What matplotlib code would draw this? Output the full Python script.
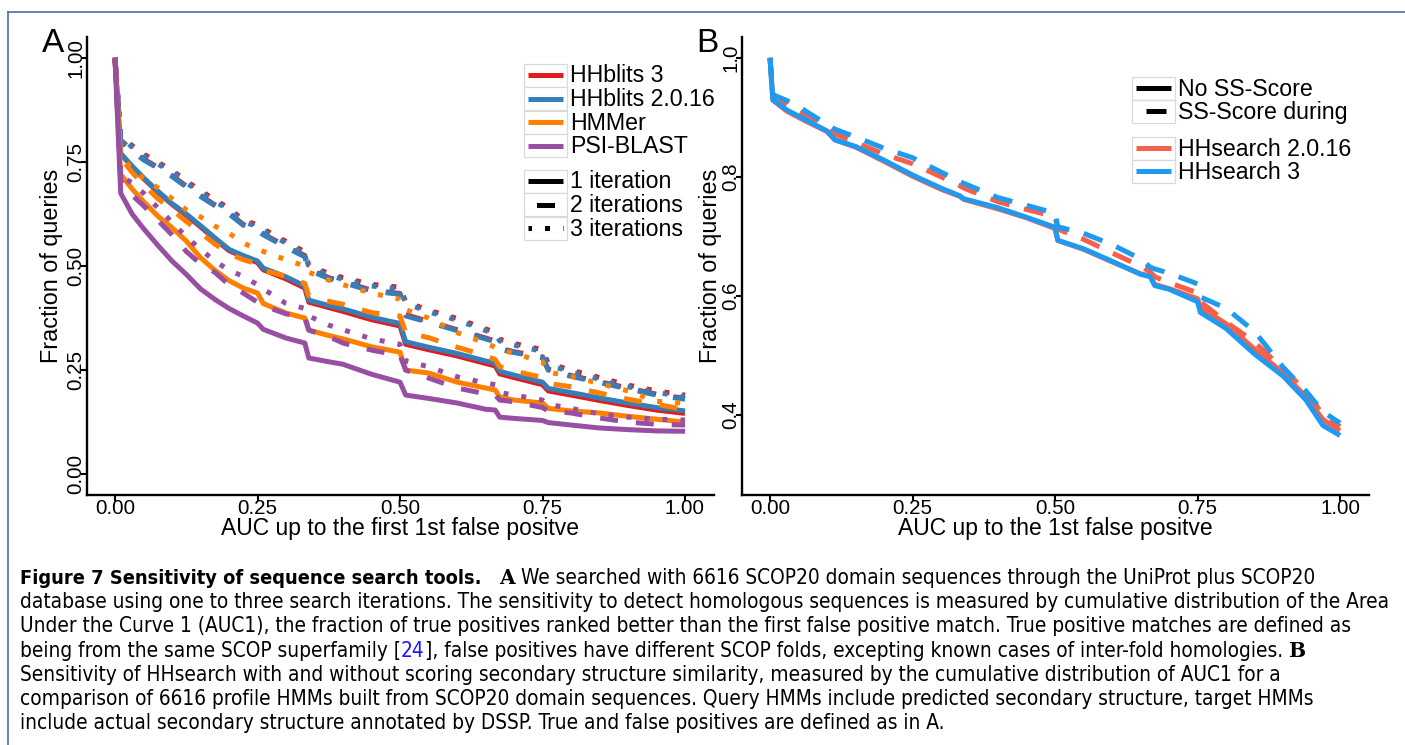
import matplotlib
matplotlib.use("Agg")
import matplotlib.pyplot as plt
from matplotlib import font_manager
from matplotlib.patches import Rectangle

W, H = 1405, 745

# =====================================================================
# Panel A: cumulative AUC1 for HHblits 3 / HHblits 2.0.16 / HMMer / PSI-BLAST
# =====================================================================
auc_a = [0, 0.01, 0.03, 0.05, 0.075, 0.1, 0.125, 0.15, 0.175, 0.2, 0.225, 0.25, 0.26,
         0.3, 0.333, 0.34, 0.375, 0.4, 0.45, 0.5, 0.51, 0.55, 0.6, 0.65, 0.667, 0.675,
         0.7, 0.75, 0.76, 0.8, 0.85, 0.9, 0.95, 1.0]

hhblits3_it1 = [1.0, 0.77, 0.738, 0.71, 0.678, 0.648, 0.622, 0.594, 0.565, 0.537, 0.522, 0.508,
                0.491, 0.469, 0.447, 0.413, 0.4, 0.391, 0.371, 0.356, 0.312, 0.299, 0.284, 0.266,
                0.26, 0.241, 0.232, 0.215, 0.2, 0.19, 0.177, 0.165, 0.154, 0.146]
hhblits3_it2 = [1.0, 0.802, 0.778, 0.757, 0.737, 0.717, 0.692, 0.669, 0.647, 0.627, 0.6, 0.587,
                0.577, 0.547, 0.525, 0.492, 0.472, 0.462, 0.442, 0.434, 0.383, 0.367, 0.347, 0.327,
                0.32, 0.302, 0.294, 0.282, 0.252, 0.237, 0.222, 0.207, 0.192, 0.182]
hhblits3_it3 = [1.0, 0.816, 0.789, 0.769, 0.749, 0.73, 0.704, 0.681, 0.659, 0.639, 0.61, 0.599,
                0.589, 0.559, 0.534, 0.502, 0.482, 0.472, 0.456, 0.449, 0.414, 0.394, 0.374, 0.349,
                0.341, 0.324, 0.314, 0.299, 0.266, 0.25, 0.232, 0.214, 0.2, 0.19]

hhblits2_it1 = [1.0, 0.77, 0.74, 0.712, 0.68, 0.65, 0.625, 0.597, 0.568, 0.54, 0.525, 0.512,
                0.495, 0.474, 0.452, 0.418, 0.405, 0.397, 0.377, 0.362, 0.318, 0.305, 0.29, 0.272,
                0.267, 0.247, 0.238, 0.221, 0.206, 0.196, 0.183, 0.171, 0.16, 0.152]
hhblits2_it2 = [1.0, 0.80, 0.775, 0.755, 0.735, 0.715, 0.69, 0.667, 0.645, 0.625, 0.598, 0.585,
                0.575, 0.545, 0.522, 0.49, 0.47, 0.46, 0.44, 0.432, 0.38, 0.365, 0.345, 0.325,
                0.318, 0.3, 0.292, 0.28, 0.25, 0.235, 0.22, 0.205, 0.19, 0.18]
hhblits2_it3 = [1.0, 0.812, 0.785, 0.765, 0.745, 0.726, 0.70, 0.677, 0.655, 0.635, 0.606, 0.595,
                0.585, 0.555, 0.53, 0.498, 0.478, 0.468, 0.452, 0.445, 0.41, 0.39, 0.37, 0.345,
                0.337, 0.32, 0.31, 0.295, 0.262, 0.246, 0.228, 0.21, 0.196, 0.186]

hmmer_it1 = [1.0, 0.72, 0.685, 0.655, 0.62, 0.592, 0.56, 0.52, 0.49, 0.465, 0.447, 0.435,
             0.41, 0.387, 0.375, 0.346, 0.333, 0.325, 0.306, 0.293, 0.25, 0.243, 0.221, 0.207,
             0.202, 0.185, 0.178, 0.171, 0.158, 0.152, 0.147, 0.139, 0.132, 0.125]
hmmer_it2 = [1.0, 0.76, 0.725, 0.695, 0.662, 0.635, 0.607, 0.58, 0.553, 0.53, 0.515, 0.505,
             0.49, 0.475, 0.458, 0.428, 0.415, 0.408, 0.388, 0.38, 0.34, 0.328, 0.305, 0.285,
             0.275, 0.258, 0.248, 0.232, 0.218, 0.21, 0.195, 0.18, 0.168, 0.155]
hmmer_it3 = [1.0, 0.76, 0.735, 0.71, 0.688, 0.662, 0.635, 0.618, 0.596, 0.579, 0.555, 0.54,
             0.535, 0.515, 0.5, 0.485, 0.466, 0.455, 0.435, 0.42, 0.395, 0.375, 0.34, 0.315,
             0.305, 0.3, 0.29, 0.27, 0.245, 0.235, 0.218, 0.2, 0.175, 0.17]

psiblast_it1 = [1.0, 0.675, 0.625, 0.59, 0.55, 0.512, 0.48, 0.445, 0.42, 0.398, 0.38, 0.363,
                0.348, 0.327, 0.315, 0.279, 0.27, 0.264, 0.24, 0.221, 0.19, 0.182, 0.171, 0.156,
                0.154, 0.137, 0.134, 0.129, 0.124, 0.118, 0.111, 0.107, 0.104, 0.103]
psiblast_it2 = [1.0, 0.705, 0.67, 0.645, 0.61, 0.575, 0.535, 0.505, 0.485, 0.455, 0.435, 0.413,
                0.405, 0.385, 0.377, 0.346, 0.33, 0.315, 0.298, 0.285, 0.25, 0.231, 0.207, 0.193,
                0.19, 0.178, 0.174, 0.16, 0.152, 0.147, 0.135, 0.125, 0.12, 0.118]
psiblast_it3 = [1.0, 0.715, 0.70, 0.675, 0.64, 0.605, 0.57, 0.54, 0.512, 0.49, 0.475, 0.455,
                0.445, 0.41, 0.398, 0.38, 0.358, 0.347, 0.325, 0.312, 0.272, 0.258, 0.234, 0.219,
                0.215, 0.196, 0.19, 0.178, 0.168, 0.158, 0.145, 0.137, 0.132, 0.13]

tools_a = ['HHblits 3', 'HHblits 2.0.16', 'HMMer', 'PSI-BLAST']
colors_a = ['#E41A1C', '#377EB8', '#FF7F00', '#984EA3']
iter_labels = ['1 iteration', '2 iterations', '3 iterations']
series_a = [[hhblits3_it1, hhblits3_it2, hhblits3_it3],
            [hhblits2_it1, hhblits2_it2, hhblits2_it3],
            [hmmer_it1, hmmer_it2, hmmer_it3],
            [psiblast_it1, psiblast_it2, psiblast_it3]]

# =====================================================================
# Panel B: HHsearch with / without secondary structure score
# =====================================================================
auc_b = [0, 0.005, 0.03, 0.06, 0.1, 0.114, 0.15, 0.2, 0.25, 0.3, 0.333, 0.34, 0.4, 0.45,
         0.5, 0.505, 0.55, 0.6, 0.65, 0.667, 0.675, 0.7, 0.75, 0.755, 0.8, 0.85, 0.9, 0.94,
         0.97, 1.0]

hhsearch2_noss = [1.0, 0.929, 0.91, 0.895, 0.876, 0.862, 0.85, 0.826, 0.801, 0.779, 0.767, 0.762,
                  0.746, 0.731, 0.713, 0.693, 0.678, 0.657, 0.637, 0.633, 0.619, 0.612, 0.595,
                  0.58, 0.553, 0.51, 0.47, 0.43, 0.392, 0.373]
hhsearch2_ss = [1.0, 0.935, 0.922, 0.905, 0.88, 0.872, 0.858, 0.838, 0.822, 0.8, 0.785, 0.781,
                0.758, 0.745, 0.733, 0.712, 0.695, 0.672, 0.65, 0.64, 0.632, 0.622, 0.605, 0.59,
                0.556, 0.522, 0.477, 0.44, 0.4, 0.38]
hhsearch3_noss = [1.0, 0.929, 0.912, 0.897, 0.877, 0.862, 0.851, 0.828, 0.803, 0.781, 0.768, 0.763,
                  0.748, 0.732, 0.715, 0.693, 0.679, 0.658, 0.636, 0.632, 0.617, 0.611, 0.59,
                  0.572, 0.545, 0.502, 0.465, 0.425, 0.382, 0.365]
hhsearch3_ss = [1.0, 0.938, 0.928, 0.912, 0.888, 0.88, 0.867, 0.848, 0.832, 0.808, 0.792, 0.789,
                0.765, 0.752, 0.739, 0.716, 0.705, 0.686, 0.662, 0.648, 0.645, 0.638, 0.62, 0.598,
                0.579, 0.54, 0.48, 0.44, 0.405, 0.386]

tools_b = ['HHsearch 2.0.16', 'HHsearch 3']
colors_b = ['#F5604A', '#1E9BF0']
ss_labels = ['No SS-Score', 'SS-Score during']
series_b = [[hhsearch2_noss, hhsearch2_ss], [hhsearch3_noss, hhsearch3_ss]]

caption_lines = [
    "database using one to three search iterations. The sensitivity to detect homologous sequences is measured by cumulative distribution of the Area",
    "Under the Curve 1 (AUC1), the fraction of true positives ranked better than the first false positive match. True positive matches are defined as",
    "Sensitivity of HHsearch with and without scoring secondary structure similarity, measured by the cumulative distribution of AUC1 for a",
    "comparison of 6616 profile HMMs built from SCOP20 domain sequences. Query HMMs include predicted secondary structure, target HMMs",
    "include actual secondary structure annotated by DSSP. True and false positives are defined as in A.",
]

# =====================================================================
# figure
# =====================================================================
plt.rcParams['font.family'] = ['Liberation Sans', 'DejaVu Sans']
fig = plt.figure(figsize=(W / 100, H / 100), dpi=100)
fig.patch.set_facecolor('white')

LW = 3.6
dash_a = ['-', (0, (3.6, 3.6)), (0, (1, 2.6))]
dash_b = ['-', (0, (4, 3))]


def px_axes(x0, y0, x1, y1):
    return fig.add_axes([x0 / W, 1 - y1 / H, (x1 - x0) / W, (y1 - y0) / H])


def style_axes(ax, yticks, ylabels, ylim):
    for s in ['top', 'right']:
        ax.spines[s].set_visible(False)
    for s in ['left', 'bottom']:
        ax.spines[s].set_linewidth(1.7)
    ax.set_facecolor('none')
    ax.set_xlim(-0.05, 1.05)
    ax.set_ylim(*ylim)
    ax.set_xticks([0, 0.25, 0.5, 0.75, 1.0], ['0.00', '0.25', '0.50', '0.75', '1.00'])
    ax.set_yticks(yticks, ylabels)
    ax.tick_params(length=4, width=1.5, labelsize=14.8, colors='black')
    ax.tick_params(axis='x', pad=-1)
    ax.tick_params(axis='y', pad=-3)
    for lab in ax.get_yticklabels():
        lab.set_rotation(90)
        lab.set_va('center')


axA = px_axes(86.5, 37, 713.5, 495)
for ci, col in enumerate(colors_a):
    for it in range(3):
        axA.plot(auc_a, series_a[ci][it], color=col, lw=LW, ls=dash_a[it],
                 solid_capstyle='butt', dash_capstyle='butt')
style_axes(axA, [0, 0.25, 0.5, 0.75, 1.0], ['0.00', '0.25', '0.50', '0.75', '1.00'], (-0.05, 1.05))

axB = px_axes(741.5, 37, 1368.5, 495)
for ci, col in enumerate(colors_b):
    for k in range(2):
        axB.plot(auc_b, series_b[ci][k], color=col, lw=LW, ls=dash_b[k],
                 solid_capstyle='butt', dash_capstyle='butt')
style_axes(axB, [0.4, 0.6, 0.8, 1.0], ['0.4', '0.6', '0.8', '1.0'], (0.265, 1.035))

# overlay in pixel coordinates for labels, legends, caption
ov = fig.add_axes([0, 0, 1, 1])
ov.set_xlim(0, W)
ov.set_ylim(H, 0)
ov.axis('off')

# page frame
ov.plot([8, W], [12, 12], color='#4A6FA8', lw=1.2)
ov.plot([8, 8], [12, H], color='#4A6FA8', lw=1.2)

ov.text(42, 44, 'A', fontsize=24, va='center', ha='left')
ov.text(696, 44, 'B', fontsize=24, va='center', ha='left')
ov.text(400, 528, 'AUC up to the first 1st false positve', fontsize=16.5, ha='center', va='center')
ov.text(1055, 528, 'AUC up to the 1st false positve', fontsize=16.5, ha='center', va='center')
ov.text(52, 266, 'Fraction of queries', fontsize=16.8, rotation=90, ha='center', va='center')
ov.text(711, 266, 'Fraction of queries', fontsize=16.8, rotation=90, ha='center', va='center')


def legend_key(x0, yc, color, ls, label):
    ov.add_patch(Rectangle((x0, yc - 11.5), 43, 23, facecolor='white', edgecolor='#DADADA', lw=0.9))
    ov.plot([x0 + 4, x0 + 39], [yc, yc], color=color, lw=LW, ls=ls,
            solid_capstyle='butt', dash_capstyle='butt')
    ov.text(x0 + 46, yc + 1, label, fontsize=16.7, va='center', ha='left')


for i, (lab, col) in enumerate(zip(tools_a, colors_a)):
    legend_key(524, 75 + 23.6 * i, col, '-', lab)
for i, lab in enumerate(iter_labels):
    legend_key(524, 181 + 23.6 * i, 'black', ['-', (5.5, (3.6, 3.6)), (0.3, (1, 2.6))][i], lab)

for i, lab in enumerate(ss_labels):
    legend_key(1132, 88 + 23.4 * i, 'black', ['-', (5.0, (4, 3))][i], lab)
for i, (lab, col) in enumerate(zip(tools_b, colors_b)):
    legend_key(1132, 148 + 23.4 * i, col, '-', lab)

# caption: prefer a narrow sans face, like the journal's condensed caption font
cond_names = {f.name for f in font_manager.fontManager.ttflist
              if str(f.stretch) in ('condensed', 'semi-condensed', 'extra-condensed')
              or 'Narrow' in f.name or 'Condensed' in f.name}
cap_family = 'DejaVu Sans'
for cand in ['Liberation Sans Narrow', 'DejaVu Sans', 'Noto Sans', 'Roboto', 'Open Sans']:
    if cand in cond_names:
        cap_family = cand
        break
renderer = fig.canvas.get_renderer()

probe = ov.text(0, 0, caption_lines[0], family=cap_family, fontstretch='condensed', fontsize=10)
cap_size = 10 * 1375 / probe.get_window_extent(renderer).width
probe.remove()
normal = dict(family=cap_family, fontstretch='condensed', fontsize=cap_size)
bold = dict(family=cap_family, fontstretch='condensed', fontsize=cap_size * 0.96, fontweight='bold')
serifb = dict(family='DejaVu Serif', fontsize=min(cap_size, 14.5), fontweight='bold')
blue = dict(family=cap_family, fontstretch='condensed', fontsize=cap_size, color='#1a1aff')

sp_probe_a = ov.text(0, 0, 'x x', **normal)
sp_probe_b = ov.text(0, 0, 'xx', **normal)
space = sp_probe_a.get_window_extent(renderer).width - sp_probe_b.get_window_extent(renderer).width
sp_probe_a.remove()
sp_probe_b.remove()


def rich_line(y, pieces, x0=20):
    x = x0
    for text, props, gap in pieces:
        x += gap
        t = ov.text(x, y, text, va='baseline', ha='left', **props)
        x += t.get_window_extent(renderer).width


base = [584 + 24.2 * i for i in range(7)]
rich_line(base[0], [("Figure 7 Sensitivity of sequence search tools.", bold, 0),
                    ("A", serifb, 3 * space),
                    ("We searched with 6616 SCOP20 domain sequences through the UniProt plus SCOP20", normal, space)])
rich_line(base[1], [(caption_lines[0], normal, 0)])
rich_line(base[2], [(caption_lines[1], normal, 0)])
rich_line(base[3], [("being from the same SCOP superfamily [", normal, 0), ("24", blue, 0),
                    ("], false positives have different SCOP folds, excepting known cases of inter-fold homologies.", normal, 0),
                    ("B", serifb, space)])
rich_line(base[4], [(caption_lines[2], normal, 0)])
rich_line(base[5], [(caption_lines[3], normal, 0)])
rich_line(base[6], [(caption_lines[4], normal, 0)])

fig.savefig('out.png', dpi=100, facecolor='white')
